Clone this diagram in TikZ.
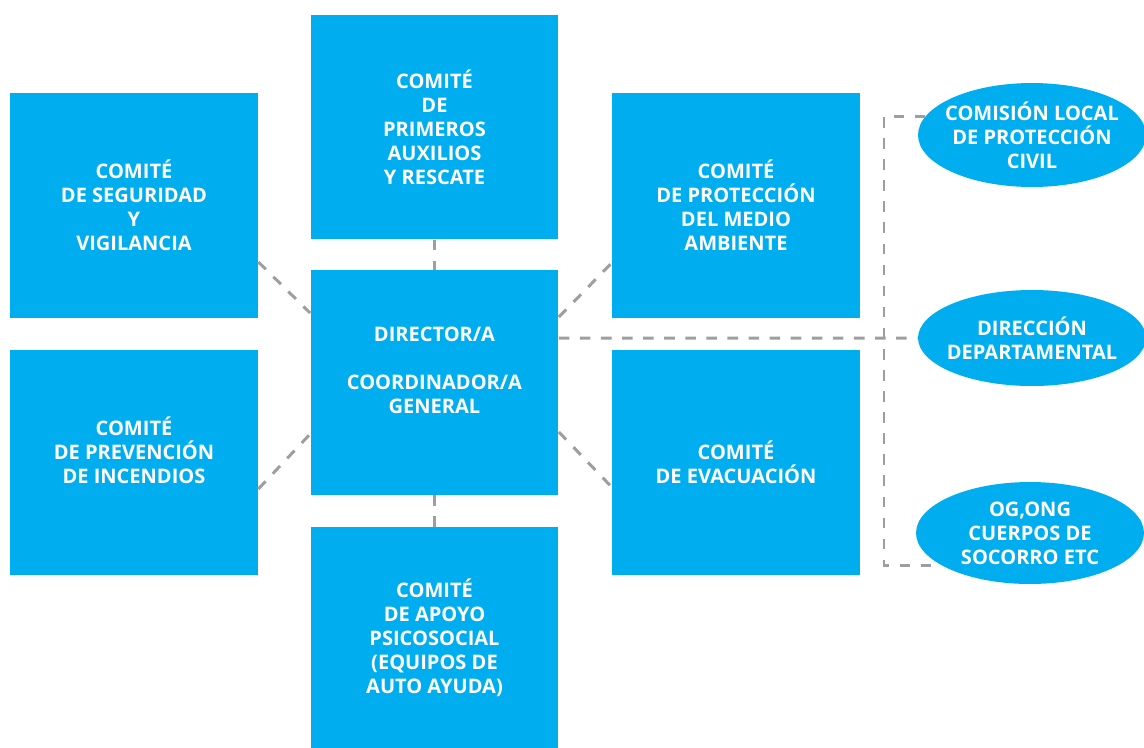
\documentclass[tikz,border=0pt]{standalone}
\usepackage{fontspec}
\setmainfont{Open Sans}
\usetikzlibrary{shapes.geometric}
\definecolor{comcyan}{RGB}{0,174,239}
\definecolor{dashgray}{RGB}{158,158,158}
\newcommand{\rot}{\fontsize{11.4}{13.6}\selectfont\bfseries}

\begin{document}
\begin{tikzpicture}[x=0.02cm,y=-0.02cm]
    \tikzstyle{comite}=[fill=comcyan, text=white, font=\rot, align=center, minimum width=4.96cm, minimum height=4.5cm, inner sep=0pt]
    \tikzstyle{ente}=[ellipse, fill=comcyan, text=white, font=\rot, align=center, minimum width=4.56cm, inner xsep=-0.25cm, inner ysep=0pt]
    \tikzstyle{enlace}=[draw=dashgray, line width=1.7pt, dash pattern=on 6pt off 6pt]
    \useasboundingbox (0,0) rectangle (1144,748);
    \node[comite] (seguridad) at (134,205.5) {COMITÉ\\DE SEGURIDAD\\Y\\VIGILANCIA};
    \node[comite] (incendios) at (134,462.5) {COMITÉ\\DE PREVENCIÓN\\DE INCENDIOS\\ ~};
    \node[comite] (auxilios) at (434.5,127) {COMITÉ\\DE\\PRIMEROS\\AUXILIOS\\Y RESCATE};
    \node[comite] (director) at (434.5,382.5) {DIRECTOR/A\\ ~\\COORDINADOR/A\\GENERAL\\ ~};
    \node[comite, minimum height=4.42cm] (apoyo) at (434.5,637.5) {COMITÉ\\DE APOYO\\PSICOSOCIAL\\(EQUIPOS DE\\AUTO AYUDA)};
    \node[comite] (ambiente) at (736,205.5) {COMITÉ\\DE PROTECCIÓN\\DEL MEDIO\\AMBIENTE};
    \node[comite] (evacuacion) at (736,462.5) {COMITÉ\\DE EVACUACIÓN};
    \node[ente, minimum height=2.08cm] (civil) at (1032,135) {COMISIÓN LOCAL\\DE PROTECCIÓN\\CIVIL};
    \node[ente, minimum height=1.92cm] (depto) at (1032,338) {DIRECCIÓN\\DEPARTAMENTAL};
    \node[ente, minimum height=2.04cm] (socorro) at (1030,533) {OG,ONG\\CUERPOS DE\\SOCORRO ETC};
    \coordinate (riel) at (884,0);
    \draw[enlace] ([yshift=-1.13cm]seguridad.east) -- ([yshift=1.39cm]director.west);
    \draw[enlace] ([yshift=-0.53cm]incendios.east) -- ([yshift=-1.03cm]director.west);
    \draw[enlace] ([yshift=1.31cm]director.east) -- ([yshift=-1.15cm]ambiente.west);
    \draw[enlace] ([yshift=-0.99cm]director.east) -- ([yshift=-0.49cm]evacuacion.west);
    \draw[enlace] (auxilios.south) -- (director.north);
    \draw[enlace] (director.south) -- (apoyo.north);
    \draw[enlace] ([yshift=0.89cm]director.east) -- (depto.west);
    \draw[enlace] (civil.170) -| (riel |- socorro.200) -- (socorro.200);
\end{tikzpicture}
\end{document}
